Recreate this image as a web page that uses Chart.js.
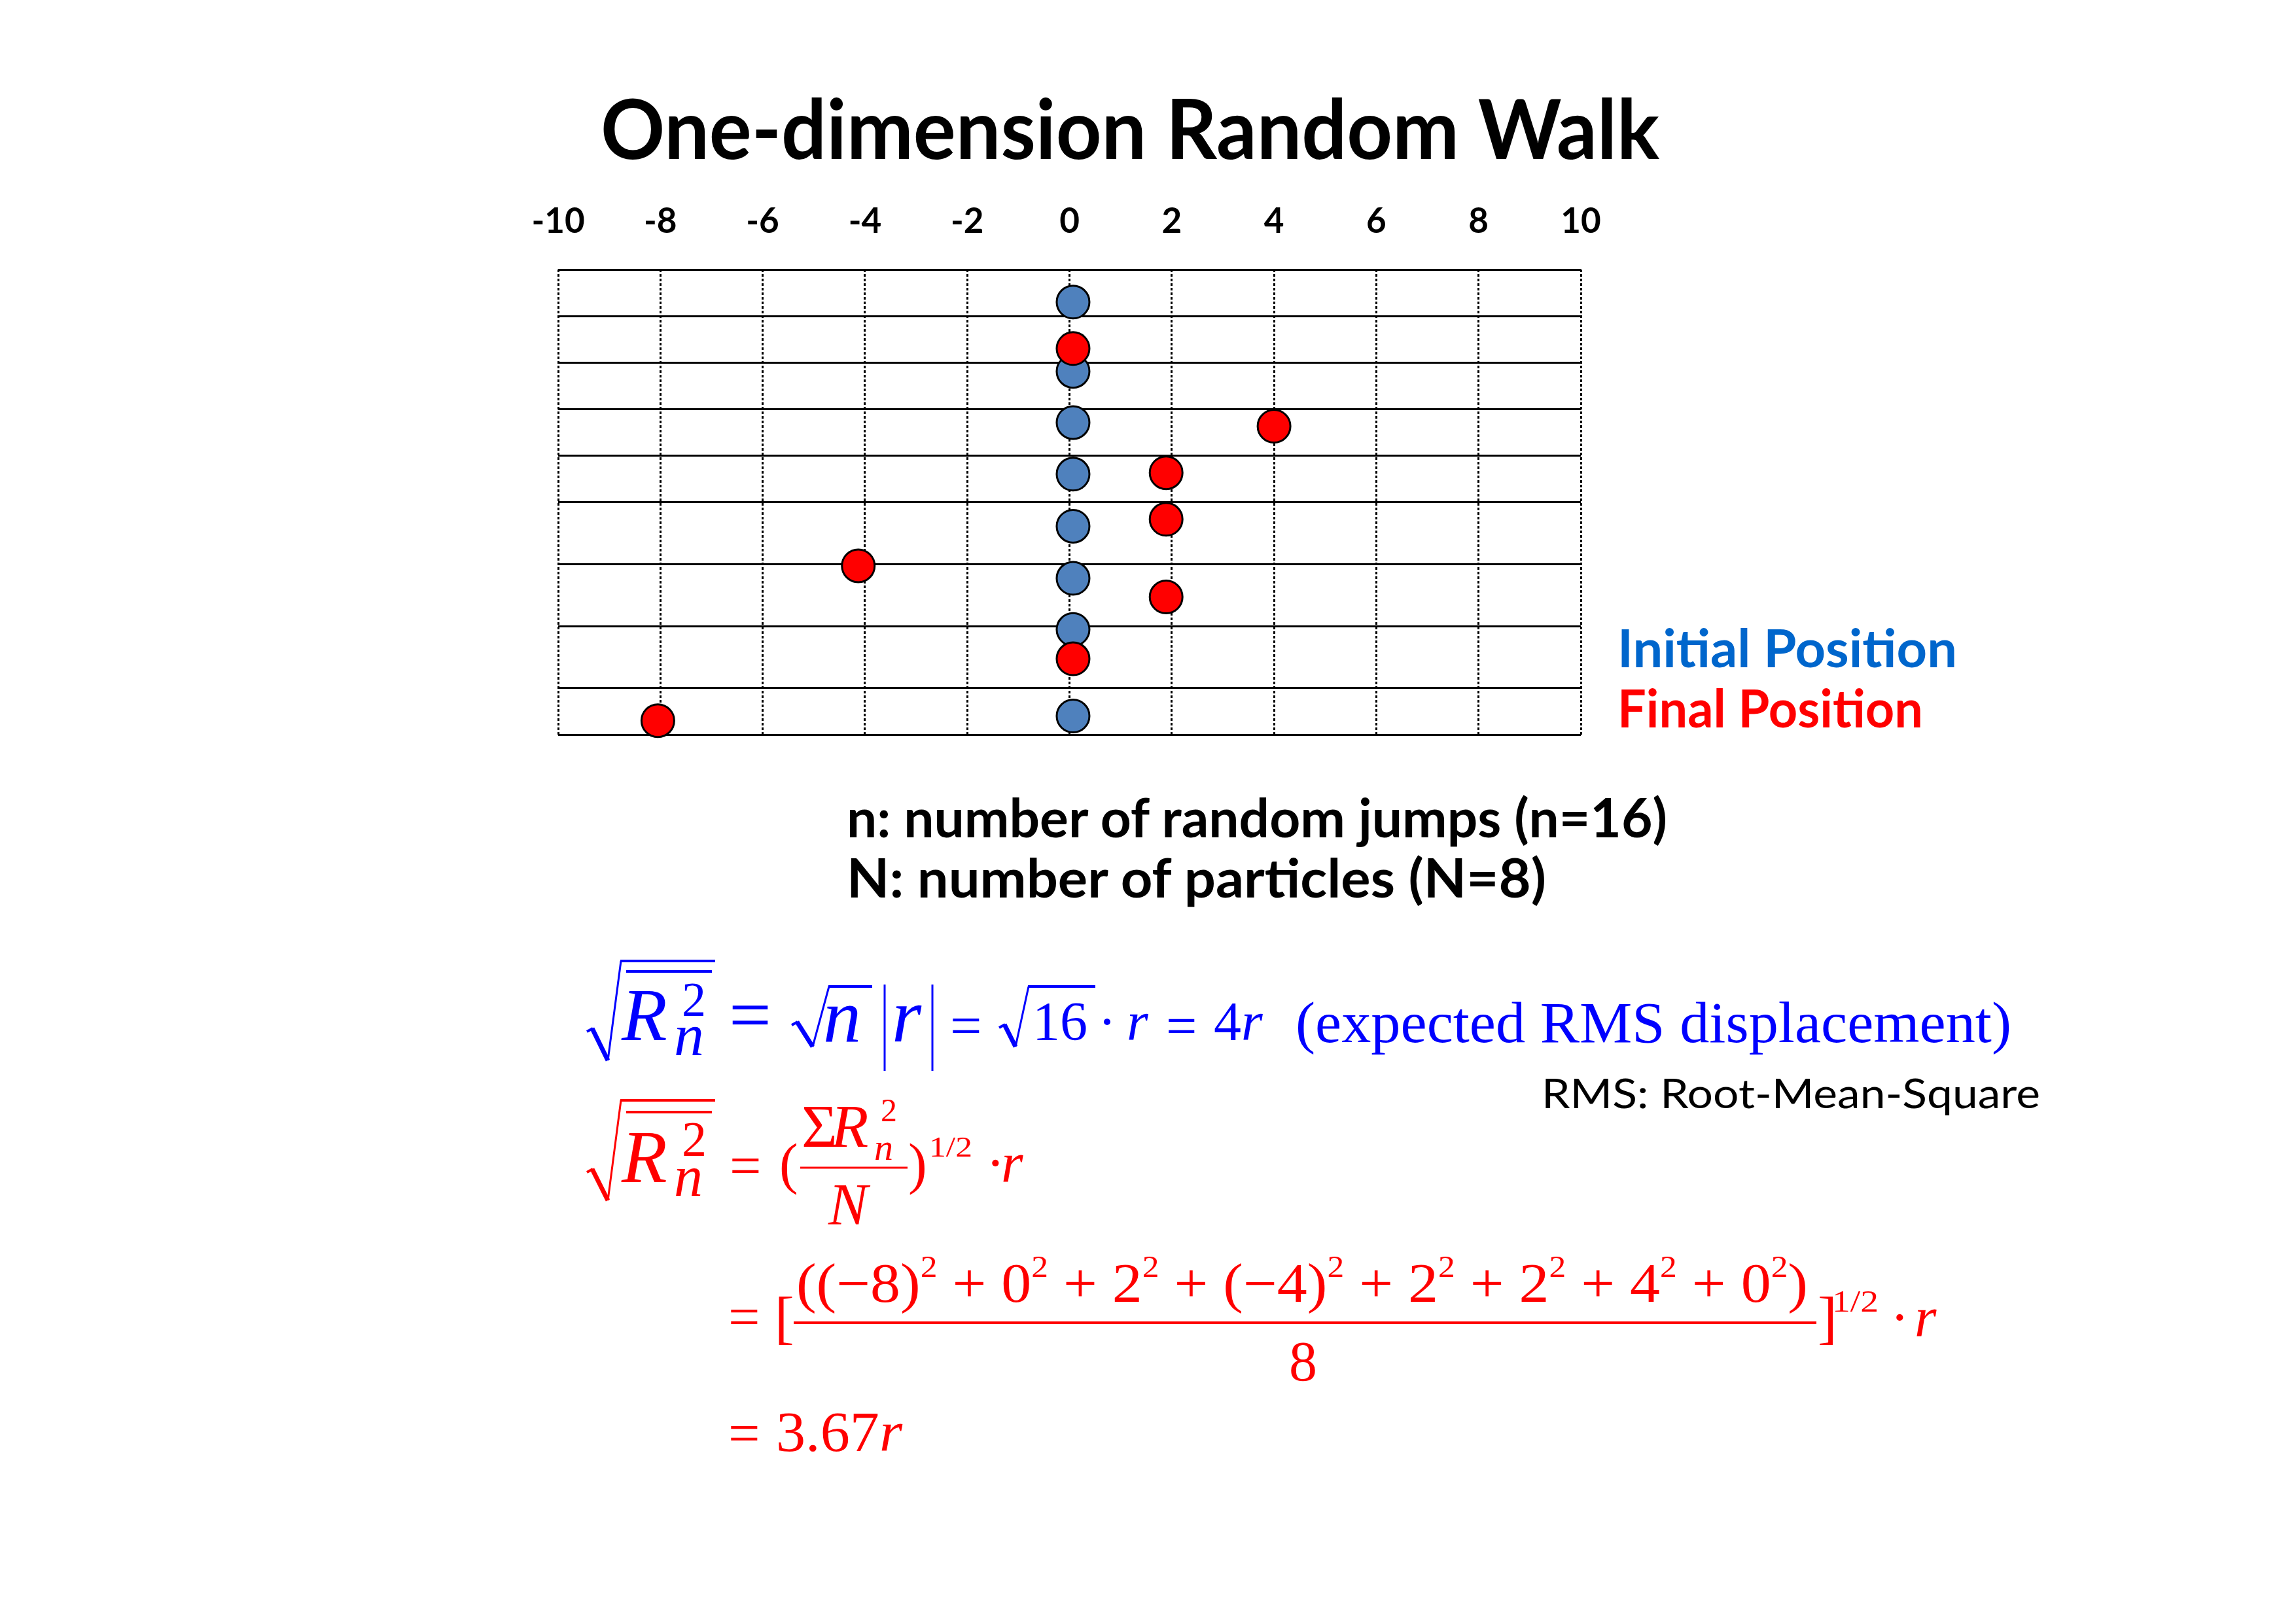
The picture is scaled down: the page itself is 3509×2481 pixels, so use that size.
<!DOCTYPE html>
<html>
<head>
<meta charset="utf-8">
<title>One-dimension Random Walk</title>
<script src="https://cdn.jsdelivr.net/npm/chart.js@4/dist/chart.umd.min.js"></script>
<style>
  html, body { margin: 0; padding: 0; background: #fff; }
  body { width: 3509px; height: 2481px; position: relative; overflow: hidden; }
  #walk, #marks { position: absolute; left: 0; top: 0; }
  .t { position: absolute; left: 0; top: 0; white-space: nowrap; line-height: 1; transform-origin: 0 0; }
  .bl { display: inline-block; width: 0; height: 0; vertical-align: baseline; }
</style>
</head>
<body>
<canvas id="walk" width="3509" height="2481"></canvas>
<svg id="marks" width="3509" height="2481"></svg>
<script>
// x axis ticks and the row lines of the grid (row units, top = 0)
const xTicks = [-10, -8, -6, -4, -2, 0, 2, 4, 6, 8, 10];
const rowLines = [0, 1, 2, 3, 4, 5, 6.33, 7.67, 9, 10];

// particle positions, top to bottom
const initialX = [0.07, 0.07, 0.07, 0.07, 0.07, 0.07, 0.07, 0.07];
const initialY = [0.70, 2.19, 3.29, 4.40, 5.52, 6.64, 7.74, 9.60];
const finalX = [0.07, 4.0, 1.89, 1.89, -4.13, 1.89, 0.07, -8.05];
const finalY = [1.70, 3.37, 4.37, 5.37, 6.37, 7.04, 8.37, 9.70];

const toPoints = (xs, ys) => xs.map((x, i) => ({ x: x, y: ys[i] }));

new Chart(document.getElementById('walk'), {
  type: 'scatter',
  data: {
    datasets: [
      {
        label: 'Final Position',
        data: toPoints(finalX, finalY),
        pointBackgroundColor: '#ff0000',
        pointBorderColor: '#000',
        pointBorderWidth: 3,
        pointRadius: 25,
        order: 0,
        clip: false
      },
      {
        label: 'Initial Position',
        data: toPoints(initialX, initialY),
        pointBackgroundColor: '#4f81bd',
        pointBorderColor: '#000',
        pointBorderWidth: 3,
        pointRadius: 25,
        order: 1,
        clip: false
      }
    ]
  },
  options: {
    responsive: false,
    animation: false,
    devicePixelRatio: 1,
    events: [],
    layout: { padding: { left: 853, right: 1093, top: 290, bottom: 1358 } },
    plugins: { legend: { display: false }, tooltip: { enabled: false } },
    scales: {
      x: {
        type: 'linear',
        position: 'top',
        min: -10,
        max: 10,
        afterBuildTicks: s => { s.ticks = xTicks.map(v => ({ value: v })); },
        afterFit: s => { s.height = 122; },
        ticks: { color: '#000', font: { family: 'Lato', weight: 'bold', size: 53 }, padding: 41, maxRotation: 0, autoSkip: false },
        grid: { color: '#000', lineWidth: 3, drawTicks: false },
        border: { display: false, dash: [4, 3] }
      },
      y: {
        type: 'linear',
        reverse: true,
        min: 0,
        max: 10,
        afterBuildTicks: s => { s.ticks = rowLines.map(v => ({ value: v })); },
        afterFit: s => { s.width = 0; },
        ticks: { display: false },
        grid: { color: '#000', lineWidth: 3, drawTicks: false },
        border: { display: false }
      }
    }
  }
});

// text overlay: x = left edge, base = baseline
function put(html, x, base, size, css, fitW) {
  const d = document.createElement('div');
  d.className = 't';
  d.style.cssText += 'font-size:' + size + 'px;' + css;
  d.innerHTML = html + '<span class="bl"></span>';
  document.body.appendChild(d);
  const off = d.querySelector('.bl').offsetTop;
  d.style.left = x + 'px';
  d.style.top = (base - off) + 'px';
  if (fitW) d.style.transform = 'scaleX(' + (fitW / d.getBoundingClientRect().width) + ')';
  return d;
}

const svg = document.getElementById('marks');
function seg(pts, w, col) {
  const p = document.createElementNS('http://www.w3.org/2000/svg', 'polyline');
  p.setAttribute('points', pts.map(q => q.join(',')).join(' '));
  p.setAttribute('fill', 'none');
  p.setAttribute('stroke', col);
  p.setAttribute('stroke-width', w);
  svg.appendChild(p);
}
function radical(x0, y0, xv, yv, xt, yt, xe, col) {
  seg([[x0, y0 + 5], [x0 + 9, y0]], 4, col);
  seg([[x0 + 8, y0], [xv, yv]], 7, col);
  seg([[xv, yv], [xt, yt]], 3, col);
  seg([[xt - 1, yt], [xe, yt]], 4, col);
}

const CS = 'font-family:Lato,"Noto Sans",sans-serif;font-weight:700;';
put('One-dimension Random Walk', 918, 243, 127, CS + 'color:#000;', 1618);
put('Initial Position', 2472, 1020, 81, CS + 'color:#0066cc;', 519);
put('Final Position', 2472, 1112, 81, CS + 'color:#ff0000;', 467);
put('n: number of random jumps (n=16)', 1294, 1280, 82, CS + 'color:#000;', 1254);
put('N: number of particles (N=8)', 1294, 1372, 82, CS + 'color:#000;', 1069);
put('RMS: Root-Mean-Square', 2356, 1694, 62, 'font-family:Lato,sans-serif;font-weight:400;color:#000;', 762);

// formulas
const SER = "font-family:'Liberation Serif','Times New Roman',serif;";
const B = '#0000ff', R = '#ff0000';
function m(html, x, base, size, col, ital, fitW) {
  return put(html, x, base, size, SER + 'color:' + col + ';' + (ital ? 'font-style:italic;' : ''), fitW);
}

// blue: expected RMS displacement
radical(897, 1572, 929, 1621, 949, 1469, 1093, B);
seg([[957, 1485], [1088, 1485]], 4, B);
m('R', 950, 1590, 114, B, true);
m('2', 1042, 1553, 74, B);
m('n', 1030, 1613, 92, B, true);
m('=', 1114, 1590, 115, B);
radical(1210, 1562, 1242, 1600, 1267, 1508, 1333, B);
m('n', 1258, 1592, 116, B, true);
seg([[1352, 1505], [1352, 1637]], 3, B);
seg([[1425, 1505], [1425, 1637]], 3, B);
m('r', 1363, 1592, 116, B, true);
m('=', 1452, 1597, 86, B);
radical(1527, 1566, 1552, 1600, 1572, 1508, 1674, B);
m('16', 1578, 1590, 84, B);
m('·', 1678, 1590, 84, B);
m('r', 1722, 1590, 84, B, true);
m('=', 1782, 1597, 84, B);
m('4<i>r</i>', 1855, 1590, 84, B);
m('(expected RMS displacement)', 1980, 1593, 88, B, false, 1094);

// red: measured RMS displacement
radical(897, 1787, 929, 1835, 949, 1682, 1093, R);
seg([[957, 1700], [1088, 1700]], 4, R);
m('R', 950, 1807, 114, R, true);
m('2', 1042, 1767, 76, R);
m('n', 1030, 1828, 88, R, true);
m('=', 1115, 1811, 86, R);
m('(', 1191, 1808, 86, R);
m('Σ', 1225, 1753, 94, R);
m('R', 1270, 1753, 94, R, true);
m('2', 1346, 1714, 50, R);
m('n', 1336, 1773, 58, R, true);
seg([[1223, 1785], [1387, 1785]], 3, R);
m('N', 1266, 1872, 90, R, true);
m(')', 1388, 1808, 86, R);
m('1/2', 1420, 1768, 44, R, false, 66);
m('·', 1507, 1807, 86, R);
m('r', 1530, 1807, 86, R, true);

const sq = '<span style="font-size:47px;vertical-align:38px">2</span>';
const num = '((−8)' + sq + ' + 0' + sq + ' + 2' + sq + ' + (−4)' + sq + ' + 2' + sq +
  ' + 2' + sq + ' + 4' + sq + ' + 0' + sq + ')';
m('=', 1113, 2042, 86, R);
m('[', 1184, 2044, 89, R);
m(num, 1217, 1990, 84, R, false, 1546);
seg([[1213, 2022], [2776, 2022]], 4, R);
m(']', 2778, 2044, 89, R);
m('1/2', 2800, 2005, 46, R, false, 71);
m('·', 2889, 2043, 86, R);
m('r', 2926, 2043, 86, R, true);
m('8', 1970, 2110, 86, R);

m('=', 1113, 2220, 86, R);
m('3.67<i>r</i>', 1186, 2218, 86, R, false, 193);
</script>
</body>
</html>
